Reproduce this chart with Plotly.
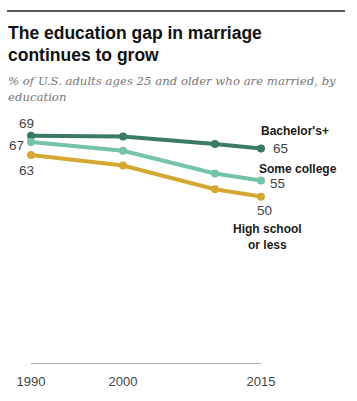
import plotly.graph_objects as go

years = [1990, 2000, 2010, 2015]
bachelors = [69, 68.7, 66.4, 65]
some_college = [67, 64.3, 57.2, 55]
high_school = [63, 59.7, 52.3, 50]
tick_years = [1990, 2000, 2015]
tick_labels = ["1990", "2000", "2015"]

title_lines = ["The education gap in marriage", "continues to grow"]
subtitle_lines = ["% of U.S. adults ages 25 and older who are married, by", "education"]

W, H = 357, 401
L, R, T, B = 31, 96, 126, 34
PW, PH = W - L - R, H - T - B

def px(x):
    return (x - L) / PW

def py(y):
    return (H - B - y) / PH

series = [
    ("Bachelor's+", bachelors, "#3b7a64"),
    ("Some college", some_college, "#74c3aa"),
    ("High school or less", high_school, "#d5a833"),
]

fig = go.Figure()
for name, vals, col in series:
    fig.add_trace(go.Scatter(
        x=years, y=vals, mode="lines+markers", name=name,
        line=dict(color=col, width=4),
        marker=dict(color=col, size=8),
        hoverinfo="skip", showlegend=False, cliponaxis=False,
    ))

ann = []
num_font = dict(family="Liberation Sans, Arial, sans-serif", size=13.5, color="#444444")
lab_font = dict(family="Liberation Sans, Arial, sans-serif", size=12, color="#1a1a1a")

# value labels
ann.append(dict(x=years[0], y=bachelors[0], text=str(bachelors[0]), xshift=-5, yshift=12, font=num_font))
ann.append(dict(x=years[0], y=some_college[0], text=str(some_college[0]), xshift=-15, yshift=-3, font=num_font))
ann.append(dict(x=years[0], y=high_school[0], text=str(high_school[0]), xshift=-5, yshift=-16, font=num_font))
ann.append(dict(x=years[-1], y=bachelors[-1], text=str(bachelors[-1]), xshift=19, yshift=0, font=num_font))
ann.append(dict(x=years[-1], y=some_college[-1], text=str(some_college[-1]), xshift=16, yshift=-3, font=num_font))
ann.append(dict(x=years[-1], y=high_school[-1], text=str(high_school[-1]), xshift=3, yshift=-14, font=num_font))

# series labels
ann.append(dict(x=years[-1], y=bachelors[-1], text="<b>Bachelor's+</b>", xshift=34, yshift=17, font=lab_font))
ann.append(dict(x=years[-1], y=some_college[-1], text="<b>Some college</b>", xshift=37, yshift=12, font=lab_font))
ann.append(dict(x=years[-1], y=high_school[-1], text="<b>High school<br>or less</b>", xshift=6, yshift=-40, font=lab_font))

for a in ann:
    a.update(xref="x", yref="y", showarrow=False, xanchor="center", yanchor="middle")

title_font = dict(family="Liberation Sans, Arial, sans-serif", size=17.5, color="#111111")
ann.append(dict(xref="paper", yref="paper", x=px(6), y=py(31), text="<b>" + title_lines[0] + "</b>",
                showarrow=False, xanchor="left", yanchor="middle", font=title_font))
ann.append(dict(xref="paper", yref="paper", x=px(6), y=py(54), text="<b>" + title_lines[1] + "</b>",
                showarrow=False, xanchor="left", yanchor="middle", font=title_font))
sub_font = dict(family="DejaVu Serif, Georgia, serif", size=11.7, color="#777777")
ann.append(dict(xref="paper", yref="paper", x=px(6), y=py(80), text="<i>" + subtitle_lines[0] + "</i>",
                showarrow=False, xanchor="left", yanchor="middle", font=sub_font))
ann.append(dict(xref="paper", yref="paper", x=px(6), y=py(97), text="<i>" + subtitle_lines[1] + "</i>",
                showarrow=False, xanchor="left", yanchor="middle", font=sub_font))

fig.update_layout(
    width=W, height=H,
    margin=dict(l=L, r=R, t=T, b=B, pad=0),
    paper_bgcolor="white", plot_bgcolor="white",
    annotations=ann,
    shapes=[dict(type="line", xref="paper", yref="paper", x0=px(7), x1=px(345), y0=py(9), y1=py(9),
                 line=dict(color="#222222", width=1.5))],
    xaxis=dict(range=[1990, 2015], tickvals=tick_years, ticktext=tick_labels,
               showgrid=False, zeroline=False, showline=True, linecolor="#aaaaaa", linewidth=1,
               ticks="outside", ticklen=6, tickcolor="rgba(0,0,0,0)",
               tickfont=dict(family="Liberation Sans, Arial, sans-serif", size=13, color="#444444")),
    yaxis=dict(range=[-1.8, 72], visible=False, showgrid=False, zeroline=False),
)

fig.write_html("out.html", config={"displayModeBar": False},
               post_script="document.body.style.margin='0px';")
